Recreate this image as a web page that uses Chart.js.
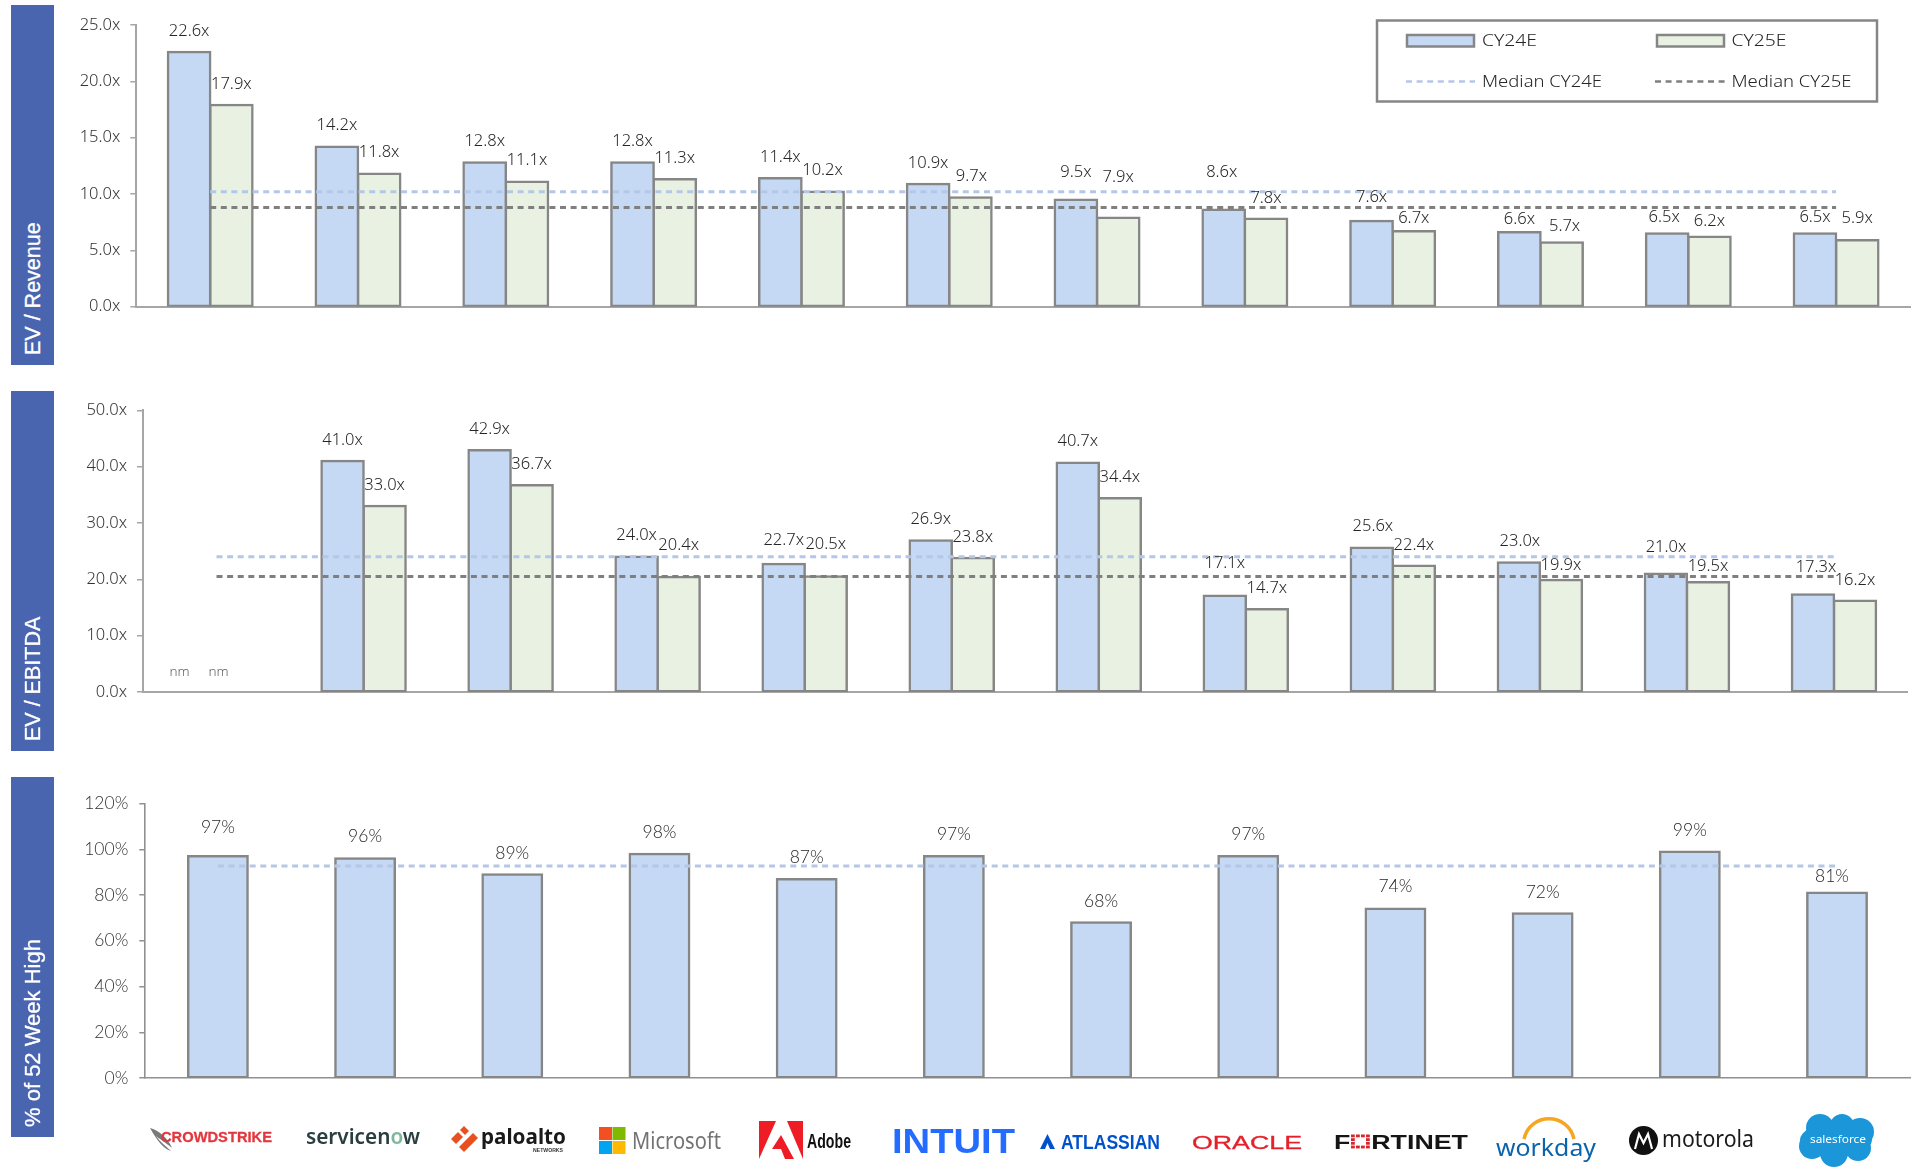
<!DOCTYPE html>
<html><head><meta charset="utf-8"><title>Software valuation multiples</title>
<script src="https://cdn.jsdelivr.net/npm/chart.js@4"></script>
<style>
html,body{margin:0;padding:0;background:#fff;overflow:hidden}
#stage{position:relative;width:1919px;height:1169px}
canvas{position:absolute;left:0}
svg{position:absolute;left:0;top:0;pointer-events:none}
</style></head><body><div id="stage">
<canvas id="c1"></canvas><canvas id="c2"></canvas><canvas id="c3"></canvas>
<svg id="ov" width="1919" height="1169" xmlns="http://www.w3.org/2000/svg"></svg>
</div>
<script>
const categories=['CrowdStrike','ServiceNow','Palo Alto Networks','Microsoft','Adobe','Intuit','Atlassian','Oracle','Fortinet','Workday','Motorola','Salesforce'];
const revCY24=[22.6,14.2,12.8,12.8,11.4,10.9,9.5,8.6,7.6,6.6,6.5,6.5];
const revCY25=[17.9,11.8,11.1,11.3,10.2,9.7,7.9,7.8,6.7,5.7,6.2,5.9];
const revMedian24=10.2, revMedian25=8.8;
const ebitdaCY24=[null,41.0,42.9,24.0,22.7,26.9,40.7,17.1,25.6,23.0,21.0,17.3];
const ebitdaCY25=[null,33.0,36.7,20.4,20.5,23.8,34.4,14.7,22.4,19.9,19.5,16.2];
const ebitdaMedian24=24.0, ebitdaMedian25=20.5;
const pctHigh=[97,96,89,98,87,97,68,97,74,72,99,81];
const pctMedian=92.7;
const revTicks=[0,5,10,15,20,25], ebitdaTicks=[0,10,20,30,40,50], pctTicks=[0,20,40,60,80,100,120];

// label placement nudges (px above the bar top, px sideways)
const revDy24=[21,21,21,21,21,21,27,37,24,13,16,16], revDx24=[0,0,0,0,0,0,0,-2,0,0,-3,0];
const revDy25=[21,21,21,21,21,21,40,21,13,16,16,22], revDx25=[0,0,0,0,0,1,0,0,0,3,0,0];
const ebDy24=[20,21,21,21,24,21,21,32,21,21,26,27], ebDx24=[-16,0,0,0,0,0,0,0,1,1,0,3];
const ebDy25=[20,21,21,32,32,21,21,21,21,15,16,20], ebDx25=[-19,0,0,0,0,0,0,0,0,0,0,0];
const pctDy=[29,22,21,22,22,22,21,22,22,21,21,16], pctDx=[0,0,0,0,0,0,0,0,0,0,0,-5];

const BLUE='#c5d9f5', GREEN='#e9f2e2', EDGE='#868686', MED_L='#b4c7e7', MED_D='#7f7f7f', INK='#262626';
const FONT='Noto Sans', FONT3='Lato';

function labelPlugin(cfg){return {id:'valueLabels',afterDatasetsDraw(chart){
  const {ctx}=chart;
  ctx.save();ctx.textAlign='center';ctx.textBaseline='middle';
  const y0=chart.scales.y.getPixelForValue(0);
  cfg.series.forEach(s=>{
    const meta=chart.getDatasetMeta(s.index), vals=chart.data.datasets[s.index].data;
    vals.forEach((v,i)=>{
      const el=meta.data[i];
      if(v===null||v===undefined){
        ctx.font='300 13.5px "'+cfg.font+'"';ctx.fillStyle='#5f5f5f';
        ctx.fillText('nm',el.x+s.dx[i],y0-s.dy[i]);
      }else{
        ctx.font='300 '+cfg.size+'px "'+cfg.font+'"';ctx.fillStyle=INK;
        ctx.fillText(cfg.fmt(v),el.x+s.dx[i],el.y-s.dy[i]+cfg.nudge);
      }
    });
  });
  ctx.restore();
}};}

function barDS(label,data,color,cat,bar){return {type:'bar',label,data,backgroundColor:color,borderColor:EDGE,borderWidth:2.5,borderSkipped:false,inflateAmount:1.25,order:2,categoryPercentage:cat,barPercentage:bar};}
function lineDS(label,val,color){return {type:'line',label,data:categories.map(()=>val),borderColor:color,borderWidth:3,borderDash:[6,4.6],pointRadius:0,fill:false,tension:0,order:1};}

function makeChart(id,cfg){
  const c=document.getElementById(id);
  c.style.top=cfg.top+'px';c.width=1919;c.height=cfg.height;c.style.width='1919px';c.style.height=cfg.height+'px';
  return new Chart(c,{
    type:'bar',
    data:{labels:categories,datasets:cfg.datasets},
    options:{responsive:false,animation:false,maintainAspectRatio:false,
      layout:{padding:{top:cfg.plotTop-cfg.top,bottom:cfg.top+cfg.height-cfg.plotBottom,left:0,right:1919-cfg.plotRight}},
      plugins:{legend:{display:false},tooltip:{enabled:false},title:{display:false}},
      scales:{
        x:{grid:{display:true,drawOnChartArea:false,drawTicks:false},ticks:{display:false},border:{color:cfg.axis,width:cfg.axisW},afterFit(s){s.height=0;}},
        y:{min:cfg.ticks[0],max:cfg.ticks[cfg.ticks.length-1],
          afterBuildTicks(s){s.ticks=cfg.ticks.map(v=>({value:v}));},
          grid:{drawOnChartArea:false,drawTicks:true,tickLength:cfg.tick,color:cfg.axis,lineWidth:1.5},
          border:{color:cfg.axis,width:cfg.axisW},
          ticks:{padding:cfg.pad,color:'#333333',font:{family:cfg.font,size:cfg.size,weight:300},callback:v=>cfg.fmt(v)},
          afterFit(s){s.width=cfg.plotLeft;}}
      }},
    plugins:[labelPlugin(cfg)]});
}

const xFmt=v=>v.toFixed(1)+'x', pFmt=v=>v+'%';
const GC=.5715, GB=1;

makeChart('c1',{top:0,height:330,plotTop:25,plotBottom:306.7,plotLeft:136.3,plotRight:1910,ticks:revTicks,tick:6,pad:10,fmt:xFmt,font:FONT,size:16.5,nudge:0,axis:'#a6a6a6',axisW:2,
  datasets:[barDS('CY24E',revCY24,BLUE,GC,GB),barDS('CY25E',revCY25,GREEN,GC,GB),lineDS('Median CY24E',revMedian24,MED_L),lineDS('Median CY25E',revMedian25,MED_D)],
  series:[{index:0,dy:revDy24,dx:revDx24},{index:1,dy:revDy25,dx:revDx25}]});
makeChart('c2',{top:390,height:330,plotTop:410.3,plotBottom:692,plotLeft:143,plotRight:1907.5,ticks:ebitdaTicks,tick:6,pad:10,fmt:xFmt,font:FONT,size:16.5,nudge:0,axis:'#a6a6a6',axisW:2,
  datasets:[barDS('CY24E',ebitdaCY24,BLUE,GC,GB),barDS('CY25E',ebitdaCY25,GREEN,GC,GB),lineDS('Median CY24E',ebitdaMedian24,MED_L),lineDS('Median CY25E',ebitdaMedian25,MED_D)],
  series:[{index:0,dy:ebDy24,dx:ebDx24},{index:1,dy:ebDy25,dx:ebDx25}]});
makeChart('c3',{top:780,height:320,plotTop:803.7,plotBottom:1078,plotLeft:144.3,plotRight:1910.6,ticks:pctTicks,tick:5,pad:11,fmt:pFmt,font:FONT3,size:17.5,nudge:0,axis:'#909090',axisW:1.6,
  datasets:[barDS('% of 52 Week High',pctHigh,BLUE,.4035,1),lineDS('Median',pctMedian,MED_L)],
  series:[{index:0,dy:pctDy,dx:pctDx}]});
</script>
<script>
// overlay: section bands, legend, company marks
const bands=[{y:5,h:360,t:'EV / Revenue',b:355,s:21.5},{y:391,h:360,t:'EV / EBITDA',b:741,s:21.5},{y:777,h:360,t:'% of 52 Week High',b:1127,s:22}];
let s='';
const T=(x,y,txt,o)=>`<text x="${x}" y="${y}" font-family="${o.f||'Liberation Sans'}" font-size="${o.s}" font-weight="${o.w||400}" fill="${o.c}" ${o.l?`textLength="${o.l}" lengthAdjust="spacingAndGlyphs"`:''} ${o.extra||''}>${txt}</text>`;
bands.forEach(b=>{
  s+=`<rect x="11" y="${b.y}" width="43" height="${b.h}" fill="#4a65b0"/>`;
  s+=`<text transform="translate(40,${b.b}) rotate(-90)" font-family="Liberation Sans" font-size="${b.s}" fill="#fff" stroke="#fff" stroke-width=".3">${b.t}</text>`;
});
// legend
s+=`<rect x="1377" y="20.5" width="500" height="81" fill="#fff" stroke="#868686" stroke-width="2.5"/>`;
const lg='Noto Sans';
s+=`<rect x="1407" y="35" width="67" height="11.5" fill="${BLUE}" stroke="${EDGE}" stroke-width="2.5"/>`;
s+=T(1482,46,'CY24E',{f:lg,s:16.5,w:300,c:INK,l:55});
s+=`<rect x="1657" y="35" width="67" height="11.5" fill="${GREEN}" stroke="${EDGE}" stroke-width="2.5"/>`;
s+=T(1731.5,46,'CY25E',{f:lg,s:16.5,w:300,c:INK,l:55});
s+=`<line x1="1406" x2="1475" y1="81.5" y2="81.5" stroke="${MED_L}" stroke-width="2.5" stroke-dasharray="6 4.6"/>`;
s+=T(1482,87,'Median CY24E',{f:lg,s:16.5,w:300,c:INK,l:120});
s+=`<line x1="1655" x2="1725" y1="81.5" y2="81.5" stroke="#7f7f7f" stroke-width="2.5" stroke-dasharray="6 4.6"/>`;
s+=T(1731.5,87,'Median CY25E',{f:lg,s:16.5,w:300,c:INK,l:120});
// CrowdStrike
s+=`<path d="M150 1128 C158 1130 168 1138 172 1148 C165 1142 158 1138 156 1136 C160 1142 166 1146 171 1151 C164 1149 158 1142 150 1128Z" fill="#77797c"/>`;
s+=T(161,1141.5,'CROWDSTRIKE',{s:14.5,w:700,c:'#e2373f',l:111,extra:'stroke="#e2373f" stroke-width=".3"'});
// ServiceNow
s+=T(306,1144,'servicen<tspan fill="#7fb6a0">o</tspan>w',{f:'Noto Sans',s:21,w:600,c:'#293e40',l:114});
// Palo Alto
s+=`<g fill="#e8501f"><path d="M451 1139l7-7 5 5-7 7z"/><path d="M460 1130l4-4 5 5-4 4z"/><path d="M459 1147l14-14 5 5-14 14z"/></g>`;
s+=T(481,1144,'paloalto',{f:'Noto Sans',s:21,w:700,c:'#1a1a1a',l:85});
s+=T(533,1151.5,'NETWORKS',{s:4.5,w:700,c:'#333',l:30});
// Microsoft
s+=`<rect x="599" y="1127" width="13" height="13" fill="#f25022"/><rect x="612.5" y="1127" width="13" height="13" fill="#7fba00"/><rect x="599" y="1141" width="13" height="13" fill="#00a4ef"/><rect x="612.5" y="1141" width="13" height="13" fill="#ffb900"/>`;
s+=T(632,1149,'Microsoft',{f:'Noto Sans',s:23,c:'#737373',l:89});
// Adobe
s+=`<g fill="#ee1c25"><path d="M759 1121h17l-17 38z"/><path d="M787 1121h16v38z"/><path d="M781 1135l13 24h-9l-4-10h-9z"/></g>`;
s+=T(807,1148,'Adobe',{f:'Liberation Sans',s:20,w:700,c:'#111',l:44});
// Intuit
s+=T(892,1153,'INTUIT',{f:'Liberation Sans',s:35,w:700,c:'#236cff',l:123});
// Atlassian
s+=`<path d="M1047.5 1134l7.500 15h-5l-2.500-6-2.500 6h-5z" fill="#0052cc"/>`;
s+=T(1061,1149,'ATLASSIAN',{s:20,w:700,c:'#0052cc',l:99});
// Oracle
s+=T(1192,1149,'ORACLE',{s:18.5,c:'#e5202a',l:110,extra:'stroke="#e5202a" stroke-width=".3"'});
// Fortinet
s+=T(1334,1149,'F<tspan fill="none">O</tspan>RTINET',{s:20.5,w:700,c:'#151515',l:134});
for(let r=0;r<4;r++)for(let q=0;q<4;q++){ if((r==1||r==2)&&(q==1||q==2))continue; s+=`<rect x="${1351+q*5}" y="${1134.5+r*3.7}" width="3.8" height="2.8" fill="#d8262c"/>`; }
// Workday
s+=`<path d="M1524 1139 C1530 1112 1568 1112 1574 1139" fill="none" stroke="#f5a623" stroke-width="3.5"/>`;
s+=T(1496,1156,'workday',{f:'Noto Sans',s:24,c:'#0a63ad',l:100});
// Motorola
s+=`<circle cx="1643.5" cy="1140.5" r="14.500" fill="#111"/><path d="M1635 1149l4-15 4.500 9 4.500-9 4 15" fill="none" stroke="#fff" stroke-width="2.200"/>`;
s+=T(1662,1147,'motorola',{f:'Noto Sans',s:23,w:400,c:'#1a1a1a',l:92});
// Salesforce
s+=`<g fill="#1b96d8"><ellipse cx="1836" cy="1140" rx="36" ry="17"/><circle cx="1820" cy="1128" r="14"/><circle cx="1842" cy="1126" r="12"/><circle cx="1860" cy="1132" r="14"/><circle cx="1812" cy="1146" r="13"/><circle cx="1834" cy="1153" r="14"/><circle cx="1858" cy="1148" r="13"/></g>`;
s+=T(1810,1143,'salesforce',{f:'Noto Sans',s:11.5,c:'#fff',l:56});
document.getElementById('ov').innerHTML=s;
</script>
</body></html>
